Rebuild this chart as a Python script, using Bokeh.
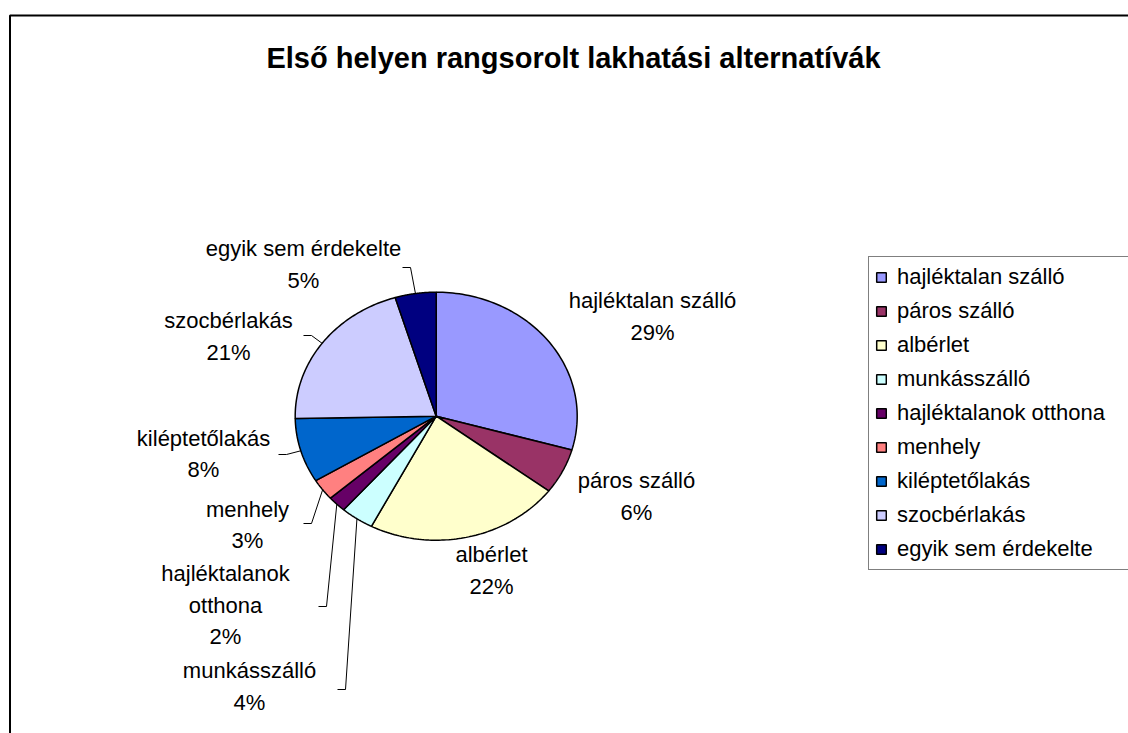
import numpy as np
from bokeh.plotting import figure
from bokeh.models import Range1d, Legend, LegendItem, ColumnDataSource
from bokeh.core.properties import value
from bokeh.embed import file_html
from bokeh.resources import INLINE

# ---- data ----
title = "Első helyen rangsorolt lakhatási alternatívák"
categories = ["hajléktalan szálló", "páros szálló", "albérlet", "munkásszálló",
              "hajléktalanok otthona", "menhely", "kiléptetőlakás", "szocbérlakás",
              "egyik sem érdekelte"]
shares = [29.4, 5.9, 22.3, 3.8, 2.1, 2.8, 8.4, 20.6, 4.7]
colors = ["#9999FF", "#993366", "#FFFFCC", "#CCFFFF", "#660066", "#FF8080",
          "#0066CC", "#CCCCFF", "#000080"]
label_lines = ["hajléktalan szálló", "páros szálló", "albérlet", "munkásszálló",
               "hajléktalanok\notthona", "menhely", "kiléptetőlakás", "szocbérlakás",
               "egyik sem érdekelte"]

# ---- layout (page pixels -> data; data units are pixels) ----
W, H = 1128, 733
def dx(X): return X
def dy(Y): return H - Y

cx, cy = dx(435.7), dy(415.7)
rx, ry = 141, 124

# label block centres (page px)
label_pos = [(652, 316), (636, 496), (491, 570), (249, 686), (225, 604.5),
             (247, 524.5), (203, 453.5), (228, 336), (303, 264)]
# leader line start points near labels (page px); None = no leader
leader_start = [None, None, None, (337, 689), (318, 606), (303, 523),
                (278, 454), (303, 335), (402, 267)]

p = figure(width=W, height=H, x_range=Range1d(0, W), y_range=Range1d(0, H),
           output_backend="svg", toolbar_location=None, min_border=0)
p.axis.visible = False
p.grid.visible = False
p.outline_line_color = None
p.background_fill_color = "white"

# ---- pie slices (clockwise from 12 o'clock) ----
total = sum(shares)
xs, ys, mids = [], [], []
start = np.pi / 2
for v in shares:
    sweep = 2 * np.pi * v / total
    t = np.linspace(start, start - sweep, 80)
    xs.append([cx] + list(cx + rx * np.cos(t)) + [cx])
    ys.append([cy] + list(cy + ry * np.sin(t)) + [cy])
    mids.append(start - sweep / 2)
    start -= sweep

src = ColumnDataSource(dict(xs=xs, ys=ys, color=colors, name=categories))
r = p.patches("xs", "ys", source=src, fill_color="color", line_color="black",
              line_width=1.5)

# ---- leader lines ----
for i, s in enumerate(leader_start):
    if s is None:
        continue
    ex = cx + rx * np.cos(mids[i])
    ey = cy + ry * np.sin(mids[i])
    sx, sy = dx(s[0]), dy(s[1])
    p.line([sx, sx + 8, ex], [sy, sy, ey], line_color="black", line_width=1)

# ---- data labels ----
texts = [f"{n}\n{round(v)}%" for n, v in zip(label_lines, shares)]
p.text(x=[dx(a) for a, b in label_pos], y=[dy(b) for a, b in label_pos], text=texts,
       text_font=value("Liberation Sans"), text_font_size="22px",
       text_align="center", text_baseline="middle", text_line_height=1.25,
       text_color="black")

# ---- title ----
p.text(x=[dx(573)], y=[dy(57)], text=[title], text_font=value("Liberation Sans"),
       text_font_size="29px", text_font_style="bold", text_align="center",
       text_baseline="middle", text_color="black")

# ---- chart border (top & left visible) ----
p.line([9.5, 9.5, W + 10], [-10, dy(15), dy(15)], line_color="black", line_width=2)

# ---- legend ----
items = [LegendItem(label=c, renderers=[r], index=i) for i, c in enumerate(categories)]
legend = Legend(items=items, location=(868, 163), border_line_color="black",
                border_line_width=1, background_fill_color="white",
                label_text_font="Liberation Sans", label_text_font_size="22px",
                label_text_color="black",
                glyph_width=12, glyph_height=12, label_standoff=10, spacing=6,
                padding=6, label_height=28, label_width=300, margin=0)
p.add_layout(legend)

open("out.html", "w").write(file_html(p, INLINE))
